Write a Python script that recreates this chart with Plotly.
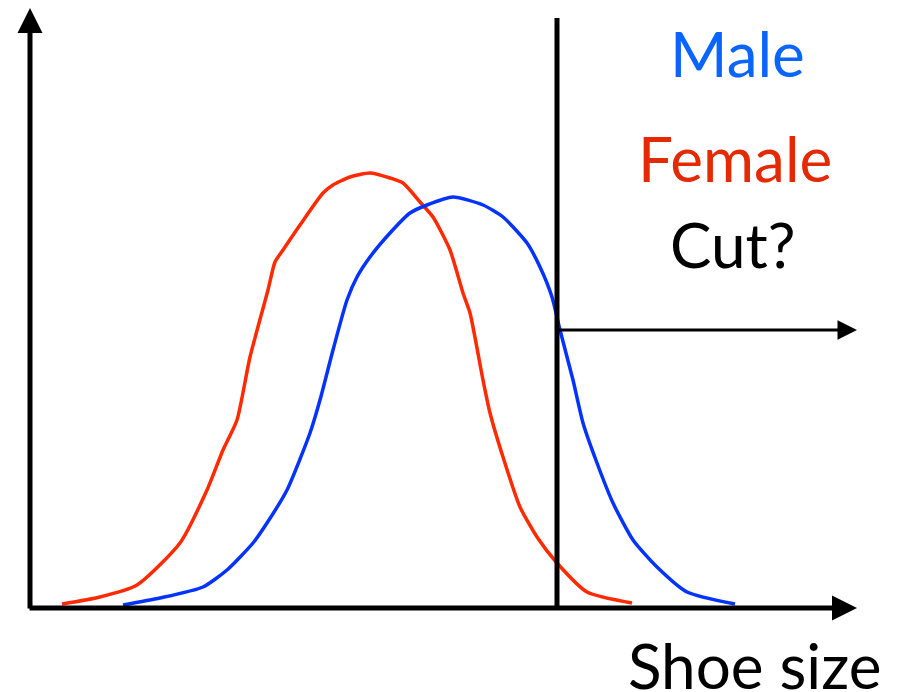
import plotly.graph_objects as go

# schematic shoe-size distributions (arbitrary units)
female_x = [0.64, 1.40, 2.14, 3.00, 3.54, 3.86, 4.14, 4.40, 4.76, 4.90, 5.06, 5.40, 5.86, 6.06, 6.40,
            6.80, 7.20, 7.46, 7.80, 8.06, 8.40, 8.66, 8.80, 9.06, 9.20, 9.46, 9.80, 10.14, 10.54, 11.14, 12.04]
female_y = [0.04, 0.11, 0.23, 0.65, 1.18, 1.58, 1.88, 2.51, 3.18, 3.46, 3.58, 3.83, 4.15, 4.23, 4.31,
            4.35, 4.30, 4.25, 4.06, 3.91, 3.58, 3.15, 2.95, 2.28, 1.95, 1.51, 1.01, 0.71, 0.45, 0.16, 0.05]

male_x = [1.86, 2.60, 3.46, 3.94, 4.46, 4.74, 5.14, 5.60, 5.80, 6.06, 6.34, 6.54, 6.80, 7.20, 7.60,
          7.94, 8.46, 9.06, 9.46, 9.94, 10.20, 10.44, 10.60, 10.86, 11.06, 11.34, 11.66, 12.06, 12.54, 13.14, 14.10]
male_y = [0.03, 0.10, 0.21, 0.38, 0.65, 0.85, 1.18, 1.75, 2.08, 2.58, 3.08, 3.31, 3.51, 3.75, 3.95,
          4.03, 4.11, 4.03, 3.91, 3.65, 3.41, 3.11, 2.78, 2.28, 1.85, 1.45, 1.05, 0.68, 0.41, 0.16, 0.04]

cut_x = 10.54
cut_top = 5.90
cut_level = 2.78
x_end = 16.54
y_end = 6.0

labels = ["Male", "Female", "Cut?"]
label_colors = ["#0a64ff", "#e32a05", "black"]
label_x = [14.14, 14.10, 14.04]
label_y = [5.55, 4.50, 3.64]

FONT = "Lato"

fig = go.Figure()
fig.add_trace(go.Scatter(x=female_x, y=female_y, mode="lines",
                         line=dict(color="#ff2a00", width=3.5, shape="spline", smoothing=0.6),
                         hoverinfo="skip"))
fig.add_trace(go.Scatter(x=male_x, y=male_y, mode="lines",
                         line=dict(color="#0433ff", width=3.5, shape="spline", smoothing=0.6),
                         hoverinfo="skip"))

# cut line
fig.add_shape(type="line", x0=cut_x, x1=cut_x, y0=-0.02, y1=cut_top,
              line=dict(color="black", width=5))

arrows = [
    # y axis
    dict(x=0, y=y_end, ax=0, ay=-0.02, width=5, size=1.0),
    # x axis
    dict(x=x_end, y=0, ax=-0.04, ay=0, width=5, size=1.0),
    # cut arrow
    dict(x=x_end, y=cut_level, ax=cut_x, ay=cut_level, width=3, size=1.3),
]
for a in arrows:
    fig.add_annotation(x=a["x"], y=a["y"], ax=a["ax"], ay=a["ay"],
                       xref="x", yref="y", axref="x", ayref="y",
                       text="", showarrow=True, arrowhead=2,
                       arrowwidth=a["width"], arrowsize=a["size"], arrowcolor="black")

for t, c, x, y in zip(labels, label_colors, label_x, label_y):
    fig.add_annotation(x=x, y=y, xref="x", yref="y", text=t, showarrow=False,
                       font=dict(family=FONT, size=62, color=c),
                       xanchor="center", yanchor="middle")

fig.add_annotation(x=14.48, y=-0.57, xref="x", yref="y", text="Shoe size", showarrow=False,
                   font=dict(family=FONT, size=62, color="black"),
                   xanchor="center", yanchor="middle")

# page body has an 8px margin, so the figure is sized to fit the window
fig.update_layout(
    width=889, height=684,
    margin=dict(l=0, r=0, t=0, b=0),
    paper_bgcolor="white", plot_bgcolor="white",
    showlegend=False,
    xaxis=dict(range=[-0.44, 17.34], visible=False, fixedrange=True),
    yaxis=dict(range=[-0.84, 6.00], visible=False, fixedrange=True),
)

fig.write_html("out.html")
